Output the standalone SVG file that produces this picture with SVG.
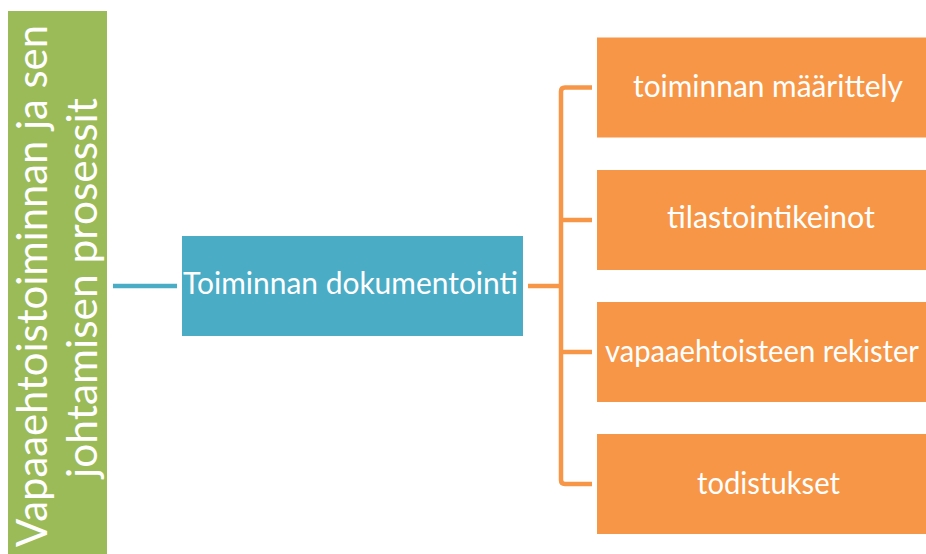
<svg xmlns="http://www.w3.org/2000/svg" width="926" height="554" viewBox="0 0 926 554">
<style>
.t{font-family:Lato,"Open Sans","Liberation Sans",sans-serif;fill:#ffffff}
.o{fill:#F79646}
.oc{fill:none;stroke:#F79646;stroke-width:4.5;stroke-linejoin:round;stroke-linecap:butt}
</style>
<rect width="926" height="554" fill="#ffffff"/>
<g id="connectors">
<line x1="113" y1="286" x2="177" y2="286" stroke="#4BACC6" stroke-width="4.5"/>
<path class="oc" d="M528,286 H561 M592,87.5 H565 Q561,87.5 561,91.5 V480 Q561,484 565,484 H592 M561,220 H592 M561,352 H592"/>
</g>
<g id="root">
<rect x="8" y="11" width="99" height="543" fill="#9BBB59"/>
<text class="t" font-size="43" text-anchor="middle" textLength="522" lengthAdjust="spacingAndGlyphs" transform="translate(47,286) rotate(-90)">Vapaaehtoistoiminnan ja sen</text>
<text class="t" font-size="43" text-anchor="middle" textLength="380" lengthAdjust="spacingAndGlyphs" transform="translate(97,288) rotate(-90)">johtamisen prosessit</text>
</g>
<g id="doc">
<rect x="182" y="236" width="341" height="100" fill="#4BACC6"/>
<text class="t" font-size="30" x="183" y="294" textLength="335" lengthAdjust="spacingAndGlyphs">Toiminnan dokumentointi</text>
</g>
<g id="n1">
<rect class="o" x="597" y="37.5" width="340" height="100"/>
<text class="t" font-size="30" x="633" y="97" textLength="270" lengthAdjust="spacingAndGlyphs">toiminnan määrittely</text>
</g>
<g id="n2">
<rect class="o" x="597" y="170" width="340" height="100"/>
<text class="t" font-size="30" x="667" y="228" textLength="208" lengthAdjust="spacingAndGlyphs">tilastointikeinot</text>
</g>
<g id="n3">
<rect class="o" x="597" y="302" width="340" height="100"/>
<text class="t" font-size="30" x="605" y="362" textLength="314" lengthAdjust="spacingAndGlyphs">vapaaehtoisteen rekister</text>
</g>
<g id="n4">
<rect class="o" x="597" y="434" width="340" height="100"/>
<text class="t" font-size="30" x="697" y="494" textLength="143" lengthAdjust="spacingAndGlyphs">todistukset</text>
</g>
</svg>
